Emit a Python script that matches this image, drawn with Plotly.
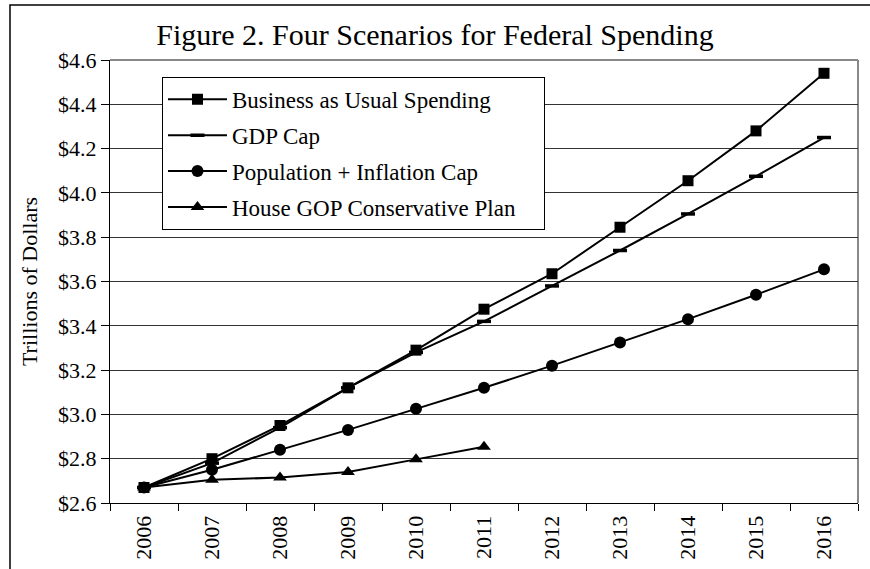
import plotly.graph_objects as go

years = ["2006", "2007", "2008", "2009", "2010", "2011", "2012", "2013", "2014", "2015", "2016"]
business_as_usual = [2.67, 2.80, 2.95, 3.12, 3.29, 3.475, 3.635, 3.845, 4.055, 4.28, 4.54]
gdp_cap = [2.67, 2.78, 2.94, 3.12, 3.28, 3.42, 3.58, 3.74, 3.905, 4.075, 4.25]
pop_inflation_cap = [2.67, 2.75, 2.84, 2.93, 3.025, 3.12, 3.22, 3.325, 3.43, 3.54, 3.655]
gop_years = ["2006", "2007", "2008", "2009", "2010", "2011"]
house_gop = [2.67, 2.705, 2.715, 2.74, 2.797, 2.854]
y_ticks = [2.6, 2.8, 3.0, 3.2, 3.4, 3.6, 3.8, 4.0, 4.2, 4.4, 4.6]
y_ticklabels = ["$2.6", "$2.8", "$3.0", "$3.2", "$3.4", "$3.6", "$3.8", "$4.0", "$4.2", "$4.4", "$4.6"]

FONT = "Liberation Serif, Times New Roman, serif"

fig = go.Figure()
fig.add_trace(go.Scatter(x=years, y=business_as_usual, name="Business as Usual Spending",
                         mode="lines+markers", legendgroup="a",
                         line=dict(color="black", width=2),
                         marker=dict(symbol="square", size=11, color="black")))
fig.add_trace(go.Scatter(x=years, y=gdp_cap, name="GDP Cap",
                         mode="lines+markers", legendgroup="b",
                         line=dict(color="black", width=2),
                         marker=dict(symbol="line-ew", size=10, color="black",
                                     line=dict(color="black", width=3.5))))
fig.add_trace(go.Scatter(x=years, y=pop_inflation_cap, name="Population + Inflation Cap",
                         mode="lines+markers", legendgroup="c",
                         line=dict(color="black", width=2),
                         marker=dict(symbol="circle", size=12, color="black")))
fig.add_trace(go.Scatter(x=gop_years, y=house_gop,
                         name="House GOP Conservative Plan\u00a0\u00a0\u00a0\u00a0",
                         mode="lines+markers", legendgroup="d",
                         line=dict(color="black", width=2),
                         marker=dict(symbol="triangle-up", size=12, color="black")))

fig.update_layout(
    width=870, height=569,
    margin=dict(l=110, r=12, t=60, b=66),
    paper_bgcolor="white", plot_bgcolor="white",
    font=dict(family=FONT, size=22, color="black"),
    title=dict(text="Figure 2. Four Scenarios for Federal Spending",
               x=0.5, xanchor="center", y=0.94, yanchor="middle",
               font=dict(family=FONT, size=30, color="black")),
    legend=dict(x=0.0695, y=0.962, xanchor="left", yanchor="top",
                bgcolor="white", bordercolor="black", borderwidth=1,
                font=dict(family=FONT, size=23, color="black"),
                itemwidth=59,
                traceorder="grouped", tracegroupgap=3),
    showlegend=True,
)

fig.update_xaxes(type="category", range=[-0.5, 10.5], tickson="boundaries",
                 ticks="outside", ticklen=7,
                 tickcolor="black", tickangle=-90, showline=True, linecolor="black",
                 linewidth=1, showgrid=False, mirror=False, ticklabelstandoff=3,
                 automargin=False,
                 tickfont=dict(family=FONT, size=22, color="black"))
fig.update_yaxes(range=[2.6, 4.6], tickvals=y_ticks, ticktext=y_ticklabels,
                 ticks="outside", ticklen=8, tickcolor="black",
                 showline=True, linecolor="black", linewidth=1,
                 showgrid=True, gridcolor="#333333", gridwidth=1, zeroline=False,
                 automargin=False,
                 title=dict(text="Trillions of Dollars", standoff=14,
                            font=dict(family=FONT, size=22, color="black")),
                 tickfont=dict(family=FONT, size=22, color="black"))

# plot area top/right border (gray)
fig.add_shape(type="line", xref="paper", yref="paper", x0=0, x1=1, y0=1, y1=1,
              line=dict(color="#888888", width=2), layer="below")
fig.add_shape(type="line", xref="paper", yref="paper", x0=1, x1=1, y0=0, y1=1,
              line=dict(color="#888888", width=2), layer="below")
# outer chart border
fig.add_shape(type="rect", xref="paper", yref="paper",
              x0=(10 - 110) / 748, x1=(880 - 110) / 748,
              y0=(503 - 580) / 443, y1=(503 - 5) / 443,
              line=dict(color="black", width=1.5), fillcolor="rgba(0,0,0,0)")

fig.write_html("out.html", config={"displayModeBar": False},
               post_script="document.body.style.margin='0';")
